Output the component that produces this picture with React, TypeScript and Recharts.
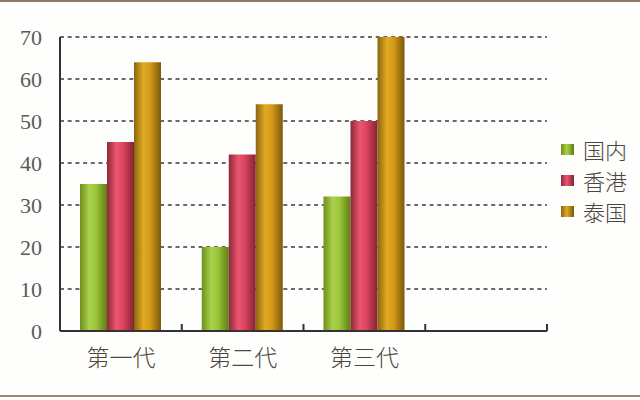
import React from 'react';
import { BarChart, Bar, XAxis, YAxis, CartesianGrid, Legend } from 'recharts';

const categories = ['第一代', '第二代', '第三代', ''];
const domestic = [35, 20, 32, null];
const hongkong = [45, 42, 50, null];
const thailand = [64, 54, 70, null];
const yTicks = [0, 10, 20, 30, 40, 50, 60, 70];
const seriesNames = ['国内', '香港', '泰国'];

const data = categories.map((c, i) => ({
  name: c,
  domestic: domestic[i],
  hongkong: hongkong[i],
  thailand: thailand[i],
}));

const seriesDefs = [
  { key: 'domestic', name: seriesNames[0], grad: 'gGreen', stops: ['#6f8f1c', '#a9d24a', '#9ac53a', '#5f7d12'] },
  { key: 'hongkong', name: seriesNames[1], grad: 'gRed', stops: ['#8c2838', '#ec5670', '#d9445e', '#842235'] },
  { key: 'thailand', name: seriesNames[2], grad: 'gGold', stops: ['#8a6510', '#e2aa22', '#d49a18', '#7a580c'] },
];

const textColor = '#4d4640';

const XTick = (props: any) => {
  const { x, y, payload } = props;
  const half = payload && payload.offset ? payload.offset : 61;
  return (
    <g>
      <line x1={x + half} x2={x + half} y1={y} y2={y - 7} stroke="#333" strokeWidth={2} />
      <text
        x={x}
        y={y + 35}
        textAnchor="middle"
        fill={textColor}
        fontSize={23}
        fontWeight={300}
        fontFamily='"Noto Sans CJK SC", sans-serif'
      >
        {payload.value}
      </text>
    </g>
  );
};

const LegendContent = () => (
  <div style={{ fontFamily: '"Noto Sans CJK SC", sans-serif', fontSize: 22, fontWeight: 300, color: textColor }}>
    {seriesDefs.map((s) => (
      <div key={s.key} style={{ display: 'flex', alignItems: 'center', height: 31, lineHeight: '31px', overflow: 'visible' }}>
        <svg width={13} height={11} style={{ marginRight: 9, flex: 'none' }}>
          <rect x={0} y={0} width={13} height={11} fill={`url(#${s.grad}L)`} />
          <defs>
            <linearGradient id={`${s.grad}L`} x1="0" y1="0" x2="1" y2="0">
              <stop offset="0%" stopColor={s.stops[0]} />
              <stop offset="45%" stopColor={s.stops[1]} />
              <stop offset="100%" stopColor={s.stops[3]} />
            </linearGradient>
          </defs>
        </svg>
        <span style={{ lineHeight: '31px' }}>{s.name}</span>
      </div>
    ))}
  </div>
);

export default function App() {
  return (
    <div
      style={{
        position: 'absolute',
        left: 0,
        top: 0,
        width: 640,
        height: 400,
        background: '#fefefc',
        overflow: 'hidden',
      }}
    >
      <div style={{ position: 'absolute', left: 0, top: 0, width: 640, height: 2, background: '#8e7b68' }} />
      <div style={{ position: 'absolute', left: 0, top: 395, width: 640, height: 2, background: '#9a8774' }} />
      <BarChart
        width={640}
        height={400}
        data={data}
        margin={{ top: 37, right: 93, bottom: 0, left: 0 }}
        barGap={0}
        barSize={27}
      >
        <defs>
          {seriesDefs.map((s) => (
            <linearGradient key={s.grad} id={s.grad} x1="0" y1="0" x2="1" y2="0">
              <stop offset="0%" stopColor={s.stops[0]} />
              <stop offset="35%" stopColor={s.stops[1]} />
              <stop offset="60%" stopColor={s.stops[2]} />
              <stop offset="100%" stopColor={s.stops[3]} />
            </linearGradient>
          ))}
        </defs>
        <CartesianGrid vertical={false} stroke="#3a3a3a" strokeDasharray="4 3.7" strokeWidth={1.5} />
        <XAxis
          dataKey="name"
          axisLine={{ stroke: '#333', strokeWidth: 2 }}
          tickLine={false}
          tickSize={0}
          tickMargin={0}
          tick={<XTick />}
          interval={0}
          height={69}
        />
        <YAxis
          domain={[0, 70]}
          ticks={yTicks}
          width={60}
          axisLine={{ stroke: '#333', strokeWidth: 2 }}
          tickLine={false}
          tickMargin={12}
          tick={{ fill: '#5a5a5a', fontSize: 22, fontFamily: '"Liberation Serif", serif' }}
          interval={0}
        />
        <Legend
          layout="vertical"
          align="center"
          verticalAlign="middle"
          content={<LegendContent />}
          wrapperStyle={{ left: 561, top: 134, width: 79 }}
        />
        {seriesDefs.map((s) => (
          <Bar
            key={s.key}
            dataKey={s.key}
            name={s.name}
            fill={`url(#${s.grad})`}
            isAnimationActive={false}
          />
        ))}
      </BarChart>
    </div>
  );
}
